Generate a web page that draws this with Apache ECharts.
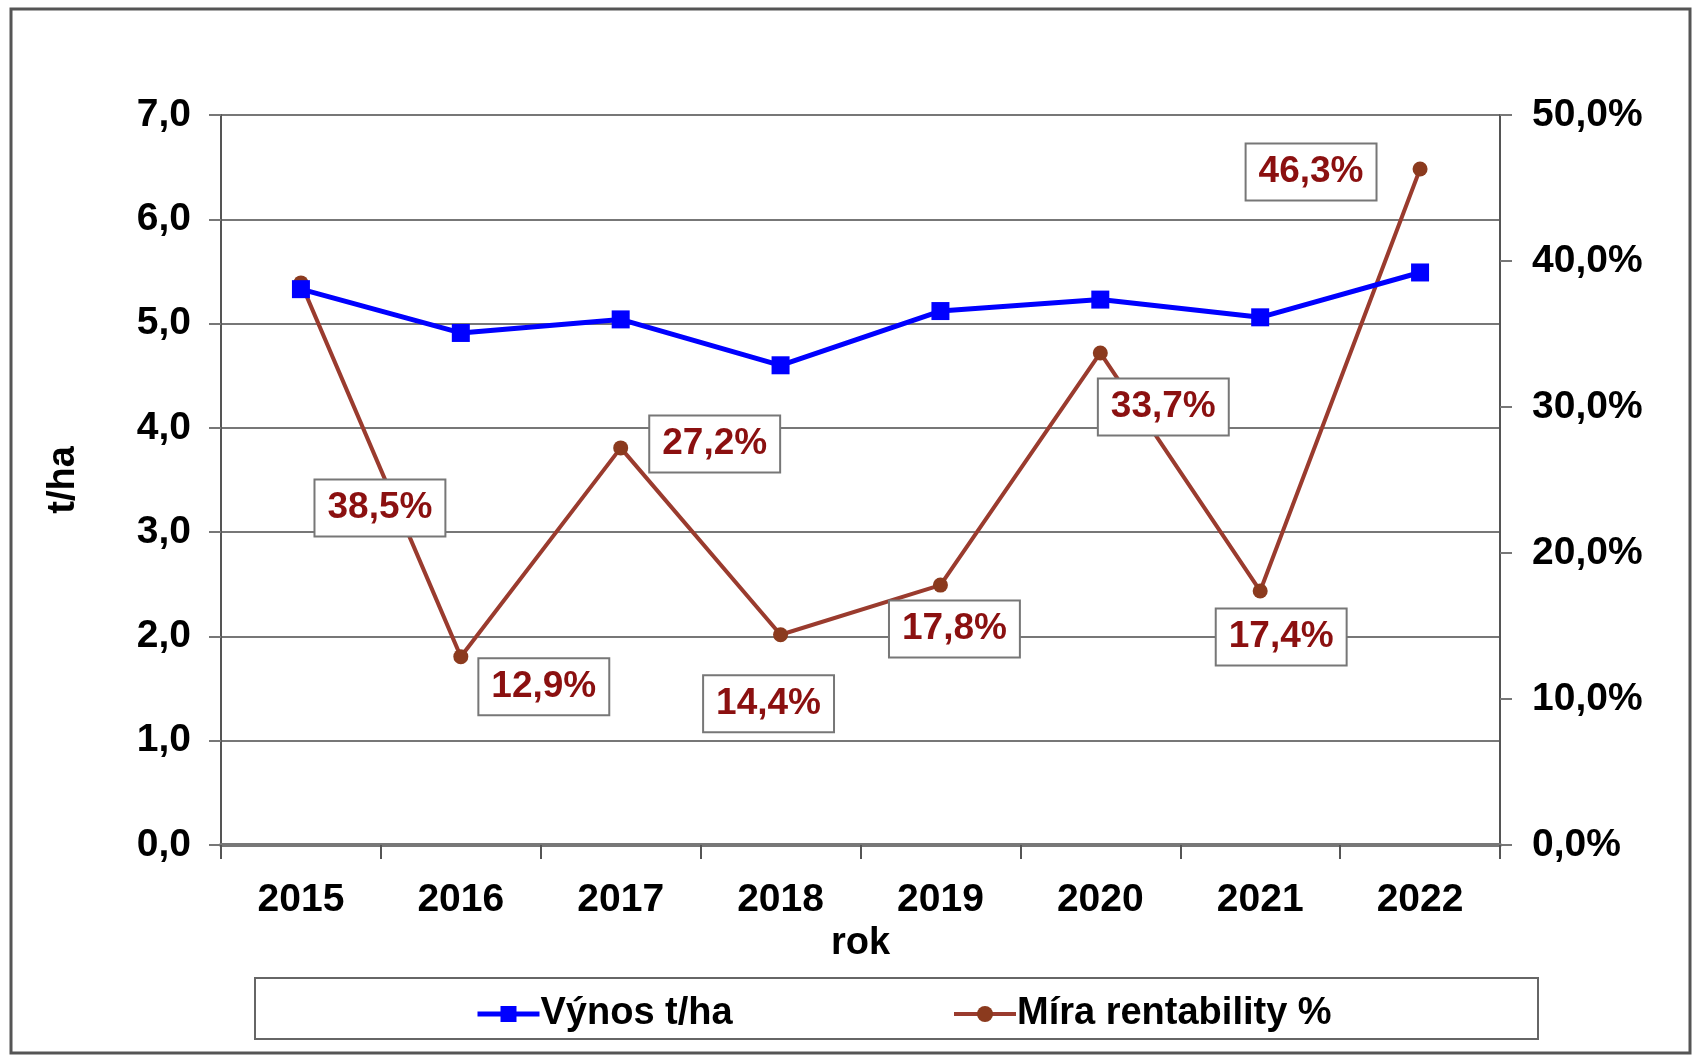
<!DOCTYPE html>
<html><head><meta charset="utf-8">
<script src="https://cdn.jsdelivr.net/npm/echarts@6/dist/echarts.min.js"></script>
<style>html,body{margin:0;padding:0;background:#fff}#c{width:1694px;height:1060px}</style>
</head><body><div id="c"></div>
<script>
const years = ['2015','2016','2017','2018','2019','2020','2021','2022'];
const vynos = [5.33, 4.91, 5.04, 4.60, 5.12, 5.23, 5.06, 5.49];
const rentabilita = [38.5, 12.9, 27.2, 14.4, 17.8, 33.7, 17.4, 46.3];
const leftTicks = [0, 1, 2, 3, 4, 5, 6, 7];
const rightTicks = [0, 10, 20, 30, 40, 50];
const labelOffsets = [[79,225],[83,30],[94,-4],[-12,69],[14,44],[63,54],[21,46],[-109,3]];

const FONT = '"Liberation Sans Narrow","Arial Narrow","Liberation Sans",Arial,sans-serif';
const fmt1 = v => v.toFixed(1).replace('.', ',');
const chart = echarts.init(document.getElementById('c'), null, {renderer:'canvas'});
chart.setOption({
  animation: false,
  backgroundColor: '#fff',
  graphic: [{type:'rect', shape:{x:11,y:9,width:1679,height:1044}, style:{fill:'none', stroke:'#555', lineWidth:3}, z:-1},
            {type:'rect', shape:{x:255,y:978,width:1283,height:61}, style:{fill:'#fff', stroke:'#666', lineWidth:2}, z:-1}],
  grid: {left:221, right:194, top:115, bottom:215},
  legend: [
    {data:['Výnos t/ha'], left:470, top:990, itemWidth:62, itemHeight:20, itemGap:4,
     lineStyle:{width:5},
     textStyle:{fontFamily:FONT, fontWeight:'bold', fontSize:38, color:'#000', padding:[0,0,0,-4]}},
    {data:['Míra rentability %'], left:947, top:990, itemWidth:62, itemHeight:20,
     lineStyle:{width:4},
     textStyle:{fontFamily:FONT, fontWeight:'bold', fontSize:38, color:'#000', padding:[0,0,0,-4]}}
  ],
  xAxis: {type:'category', data:years, boundaryGap:true,
    name:'rok', nameLocation:'middle', nameGap:80,
    nameTextStyle:{fontFamily:FONT, fontWeight:'bold', fontSize:38, color:'#000'},
    axisLine:{lineStyle:{color:'#777', width:4}},
    axisTick:{show:true, length:14, interval:0, lineStyle:{color:'#555', width:2}},
    axisLabel:{fontFamily:FONT, fontWeight:'bold', fontSize:39, color:'#000', margin:36, interval:0}
  },
  yAxis: [
    {type:'value', min:leftTicks[0], max:leftTicks[leftTicks.length-1], interval:1,
     name:'t/ha', nameLocation:'middle', nameGap:138, nameRotate:90,
     nameTextStyle:{fontFamily:FONT, fontWeight:'bold', fontSize:38, color:'#000'},
     axisLine:{show:true, lineStyle:{color:'#555', width:2}},
     axisTick:{show:true, length:12, lineStyle:{color:'#777', width:2}},
     splitLine:{lineStyle:{color:'#777', width:2}},
     axisLabel:{fontFamily:FONT, fontWeight:'bold', fontSize:39, color:'#000', margin:30, formatter:fmt1}},
    {type:'value', min:rightTicks[0], max:rightTicks[rightTicks.length-1], interval:10,
     position:'right',
     axisLine:{show:true, lineStyle:{color:'#555', width:2}},
     axisTick:{show:true, length:12, lineStyle:{color:'#777', width:2}},
     splitLine:{show:false},
     axisLabel:{fontFamily:FONT, fontWeight:'bold', fontSize:39, color:'#000', margin:32, formatter: v => fmt1(v) + '%'}}
  ],
  series: [
    {name:'Výnos t/ha', type:'line', yAxisIndex:0, data:vynos,
     symbol:'rect', symbolSize:18, z:3,
     lineStyle:{color:'#0000ff', width:5}, itemStyle:{color:'#0000ff'}},
    {name:'Míra rentability %', type:'line', yAxisIndex:1,
     data: rentabilita.map((v,i) => ({value:v, label:{offset:labelOffsets[i]}})),
     symbol:'circle', symbolSize:15, z:2,
     lineStyle:{color:'#9a3b2e', width:4}, itemStyle:{color:'#8b3a1e'},
     label:{show:true, position:'inside', formatter: p => fmt1(p.value) + '%',
       fontFamily:FONT, fontWeight:'bold', fontSize:37, color:'#8b1010',
       backgroundColor:'#fff', borderColor:'#777', borderWidth:2, padding:[10,12,8,12]}}
  ]
});
</script></body></html>
